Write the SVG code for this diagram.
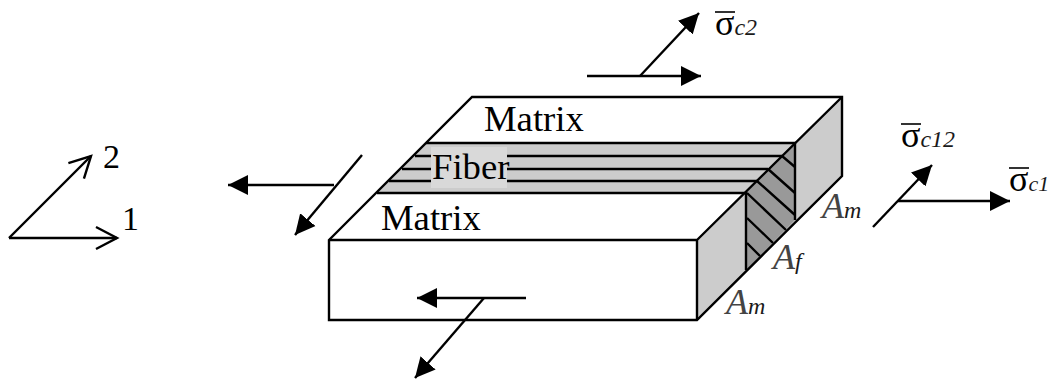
<svg xmlns="http://www.w3.org/2000/svg" width="1048" height="381" viewBox="0 0 1048 381">
<defs>
<marker id="tri" markerUnits="userSpaceOnUse" markerWidth="22" markerHeight="22" refX="20" refY="11" orient="auto"><path d="M0,1 L20,11 L0,21 Z" fill="#000"/></marker>
<marker id="open" markerUnits="userSpaceOnUse" markerWidth="26" markerHeight="28" refX="23" refY="14" orient="auto"><path d="M2,3 L23,14 L2,25" fill="none" stroke="#000" stroke-width="2.4"/></marker>
</defs>
<style>
.l{stroke:#000;stroke-width:2.4;fill:none;stroke-linejoin:miter}
.a{stroke:#000;stroke-width:2.4;fill:none;marker-end:url(#tri)}
.o{stroke:#000;stroke-width:2.4;fill:none;marker-end:url(#open)}
.ov{stroke:#000;stroke-width:1.6}
text{font-family:"Liberation Serif","Times New Roman",serif;fill:#000}
.t{font-size:36.7px}
.d{font-size:34px}
.s{font-size:36px}
.i{font-style:italic;font-size:24px;fill:#1a1a1a}
.e{font-style:italic;font-size:22px;fill:#1a1a1a}
.A{font-style:italic;font-size:36px;fill:#444}
</style>
<rect width="1048" height="381" fill="#fff"/>
<g id="block">
<path d="M329,240 L472,97 H842 V176 L697,320 H329 Z" fill="#fff"/>
<path d="M697,240 L842,97 V176 L697,320 Z" fill="#cccccc"/>
<path d="M426,143 H795 L746,193 H377 Z" fill="#cccccc"/>
<path d="M746,193 L795,143 V220 L746,270 Z" fill="#999999"/>
<path class="l" d="M329,240 L472,97 H842 V176 L697,320 H329 Z"/>
<path class="l" d="M329,240 H697 V320 M697,240 L842,97"/>
<path class="l" d="M426,143 H795 V220 M377,193 H746 V270"/>
</g>
<g id="fiber-lines">
<path class="l" d="M415,156 H782 M402,169 H768 M389,181 H757"/>
<path class="l" d="M782,156 L795,167 M768,169 L795,193 M757,181 L795,215 M747,193 L786,230 M747,218 L773,243 M747,243 L760,256"/>
</g>
<g id="fiber-label">
<rect x="431" y="147" width="76" height="41" fill="#d9d9d9"/>
<text class="t" x="432" y="179">Fiber</text>
</g>
<g id="matrix-top"><text class="t" x="484" y="131">Matrix</text></g>
<g id="matrix-bottom"><text class="t" x="381" y="230">Matrix</text></g>
<g id="area-labels">
<text class="A" x="822" y="218">A<tspan class="i">m</tspan></text>
<text class="A" x="773" y="269">A<tspan class="i">f</tspan></text>
<text class="A" x="726" y="314">A<tspan class="i">m</tspan></text>
</g>
<g id="connectors">
<path class="o" d="M9,238 H117"/>
<path class="o" d="M9,238 L91,156"/>
<path class="a" d="M334,185 H228"/>
<path class="a" d="M362,155 L295,235"/>
<path class="a" d="M587,76 H701"/>
<path class="a" d="M640,76 L699,13"/>
<path class="a" d="M526,298 H417"/>
<path class="a" d="M484,298 L415,378"/>
<path class="a" d="M898,201 H1010"/>
<path class="a" d="M873,227 L932,165"/>
</g>
<g id="axis-labels">
<text class="d" x="103" y="168">2</text>
<text class="d" x="122" y="230">1</text>
</g>
<g id="stress-labels">
<line class="ov" x1="715" y1="12" x2="735" y2="12"/><text class="s" x="715" y="35">σ<tspan class="i">c2</tspan></text>
<line class="ov" x1="901" y1="124" x2="921" y2="124"/><text class="s" x="901" y="147">σ<tspan class="i">c12</tspan></text>
<line class="ov" x1="1009" y1="168" x2="1029" y2="168"/><text class="s" x="1009" y="191">σ<tspan class="e">c1</tspan></text>
</g>
</svg>
